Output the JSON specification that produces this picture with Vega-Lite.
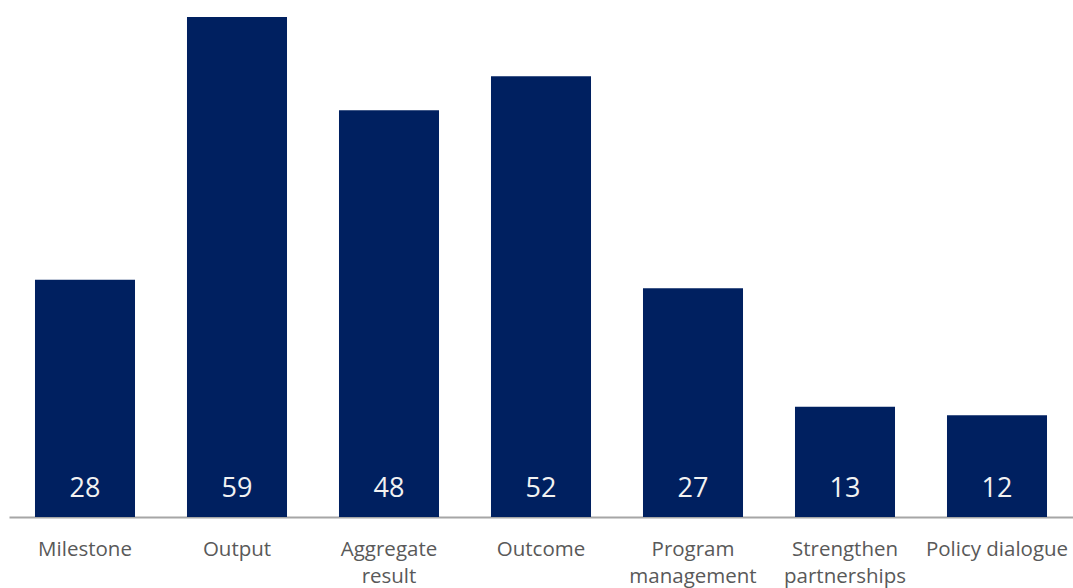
{
  "$schema": "https://vega.github.io/schema/vega-lite/v6.json",
  "width": 1064,
  "height": 517,
  "autosize": {"type": "none"},
  "padding": {"left": 9, "top": 0, "right": 0, "bottom": 71},
  "background": "white",
  "config": {"view": {"stroke": null}, "font": "Open Sans"},
  "data": {"values": [
    {"category": "Milestone", "count": 28},
    {"category": "Output", "count": 59},
    {"category": "Aggregate result", "count": 48},
    {"category": "Outcome", "count": 52},
    {"category": "Program management", "count": 27},
    {"category": "Strengthen partnerships", "count": 13},
    {"category": "Policy dialogue", "count": 12}
  ]},
  "encoding": {
    "x": {
      "field": "category", "type": "nominal", "sort": null,
      "scale": {"paddingInner": 0.342, "paddingOuter": 0.171},
      "axis": {
        "title": null, "labelAngle": 0, "ticks": false,
        "domainColor": "#a6a6a6", "domainWidth": 2,
        "labelColor": "#595959", "labelFontSize": 20.5, "labelFont": "Open Sans",
        "labelPadding": 22, "labelLineHeight": 27, "labelLimit": 200,
        "labelExpr": "datum.value == 'Policy dialogue' ? datum.value : split(datum.value, ' ')"
      }
    }
  },
  "layer": [
    {
      "mark": {"type": "bar", "color": "#002060"},
      "encoding": {
        "y": {"field": "count", "type": "quantitative", "scale": {"domain": [0, 61]}, "axis": null}
      }
    },
    {
      "mark": {"type": "text", "color": "#f2f2f2", "fontSize": 27, "baseline": "middle", "dy": -28, "font": "Open Sans"},
      "encoding": {
        "y": {"datum": 0, "type": "quantitative", "scale": {"domain": [0, 61]}},
        "text": {"field": "count", "type": "quantitative"}
      }
    }
  ]
}
